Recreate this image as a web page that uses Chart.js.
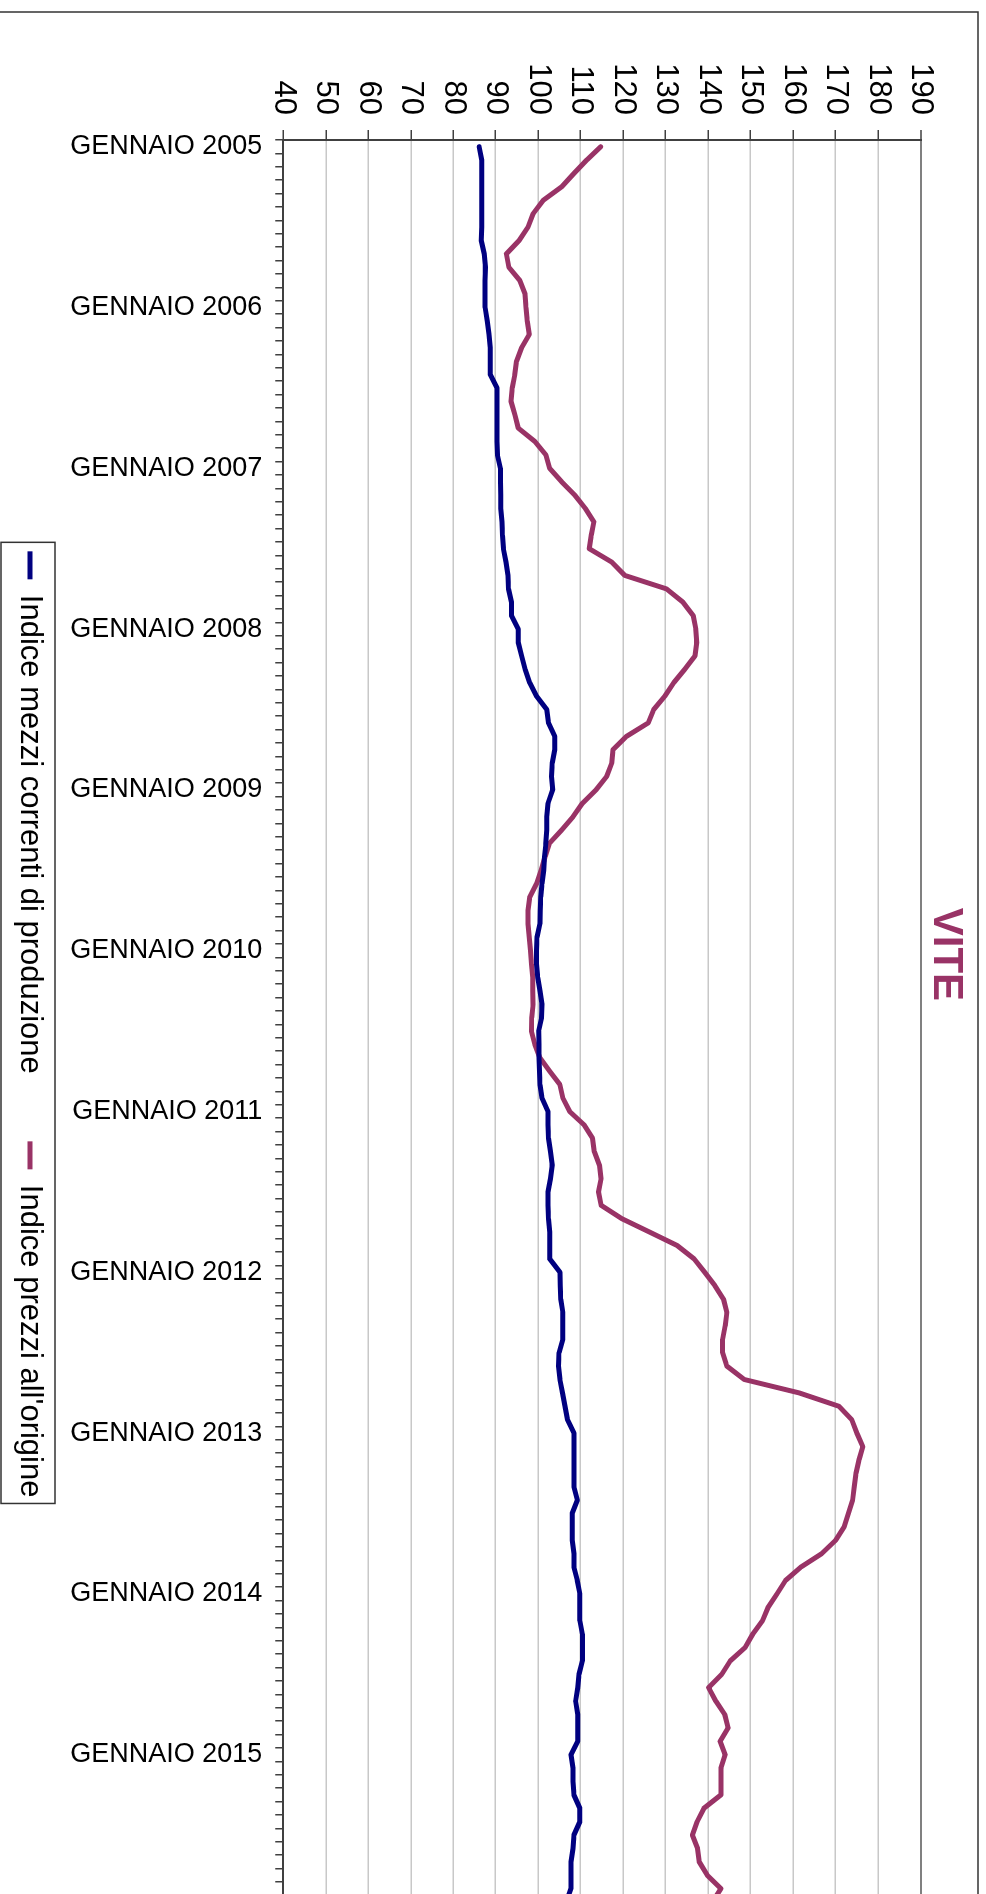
<!DOCTYPE html>
<html>
<head>
<meta charset="utf-8">
<title>VITE</title>
<script src="https://cdn.jsdelivr.net/npm/chart.js@4.4.1/dist/chart.umd.min.js"></script>
<style>
  html, body { margin: 0; padding: 0; background: #fff; overflow: hidden; }
  body { width: 986px; height: 1894px; position: relative; }
  /* il grafico e' disegnato orizzontale e poi ruotato di 90 gradi */
  #ruota { position: absolute; left: 0; top: 0; width: 1960px; height: 986px;
           transform-origin: 0 0; transform: translate(986px, 0) rotate(90deg); }
  #grafico { display: block; }
</style>
</head>
<body>
<div id="ruota"><canvas id="grafico" width="1960" height="986"></canvas></div>
<script>
// Categorie: un punto al mese
const mesi = ["GENNAIO", "FEBBRAIO", "MARZO", "APRILE", "MAGGIO", "GIUGNO",
    "LUGLIO", "AGOSTO", "SETTEMBRE", "OTTOBRE", "NOVEMBRE", "DICEMBRE"];
const anni = [2005, 2006, 2007, 2008, 2009, 2010, 2011, 2012, 2013, 2014, 2015];
const etichette = [];
anni.forEach(a => mesi.forEach(m => etichette.push(m + " " + a)));

// Indice mezzi correnti di produzione (un anno per riga)
const mezziCorrenti = [
    86.1, 86.7, 86.7, 86.7, 86.7, 86.7, 86.7, 86.6, 87.3, 87.6, 87.5, 87.5,
    87.5, 88.0, 88.4, 88.7, 88.7, 88.7, 90.3, 90.3, 90.3, 90.3, 90.3, 90.4,
    91.1, 91.1, 91.2, 91.2, 91.5, 91.6, 91.8, 92.4, 92.9, 93.0, 93.7, 93.7,
    95.3, 95.3, 96.1, 96.9, 98.0, 99.6, 102.0, 102.4, 103.9, 103.9, 103.3, 103.1,
    103.4, 102.3, 102.0, 102.0, 101.8, 101.5, 101.3, 100.9, 100.6, 100.5, 100.4, 99.7,
    99.6, 99.6, 99.9, 100.4, 100.9, 100.8, 100.1, 100.2, 100.2, 100.3, 100.4, 100.9,
    102.3, 102.3, 102.4, 102.9, 103.3, 102.9, 102.3, 102.3, 102.4, 102.7, 102.7, 102.7,
    105.1, 105.2, 105.3, 105.8, 105.8, 105.8, 104.9, 104.8, 105.1, 105.7, 106.3, 106.9,
    108.4, 108.4, 108.4, 108.4, 108.4, 109.2, 108.0, 108.0, 108.0, 108.4, 108.4, 109.2,
    109.8, 109.8, 109.8, 110.4, 110.4, 110.4, 109.6, 109.3, 108.8, 109.3, 109.3, 109.3,
    107.7, 108.2, 108.2, 108.4, 109.8, 109.8, 108.4, 108.2, 107.7, 107.7, 107.7, 106.6
];

// Indice prezzi all'origine
const prezziOrigine = [
    114.7, 111.4, 108.4, 105.5, 101.2, 98.8, 97.6, 95.5, 92.5, 93.1, 95.7, 96.9,
    97.1, 97.4, 97.9, 96.1, 94.9, 94.5, 93.9, 93.6, 94.5, 95.3, 99.2, 101.8,
    102.7, 105.5, 108.6, 111.1, 113.1, 112.5, 112.0, 117.3, 120.4, 130.2, 134.1, 136.5,
    137.1, 137.3, 136.9, 134.5, 131.9, 129.8, 127.2, 125.9, 120.8, 117.6, 117.3, 116.1,
    113.6, 110.4, 108.2, 105.5, 102.6, 101.6, 100.7, 99.6, 98.0, 97.6, 97.6, 97.9,
    98.2, 98.4, 98.7, 98.7, 98.8, 98.5, 98.4, 99.2, 100.4, 102.7, 105.1, 105.8,
    107.4, 110.8, 112.8, 113.2, 114.4, 114.8, 114.2, 114.8, 119.7, 126.2, 132.7, 136.7,
    139.2, 141.6, 143.6, 144.4, 144.0, 143.4, 143.4, 144.4, 148.5, 161.4, 170.8, 173.8,
    175.0, 176.4, 175.5, 174.8, 174.4, 174.0, 173.0, 172.0, 170.0, 166.7, 161.8, 158.2,
    156.2, 154.1, 152.8, 150.5, 148.7, 145.2, 143.2, 140.1, 141.8, 143.9, 144.7, 142.8,
    144.0, 143.0, 143.0, 143.0, 139.0, 137.4, 136.3, 137.5, 137.9, 139.8, 143.0, 141.0
];

// Asse dei valori
const scalaMin = 40, scalaMax = 190, scalaPasso = 10;

const font = "'Liberation Sans', Arial, sans-serif";

// sfondo bianco, cornice esterna e riquadro della legenda
const cornice = {
    id: 'cornice',
    beforeDraw(chart) {
        const ctx = chart.ctx;
        ctx.save();
        ctx.fillStyle = '#fff';
        ctx.fillRect(0, 0, chart.width, chart.height);
        ctx.restore();
    },
    afterDraw(chart) {
        const ctx = chart.ctx;
        ctx.save();
        ctx.strokeStyle = '#333';
        ctx.lineWidth = 1.5;
        ctx.strokeRect(12, 8, chart.width + 100, 990);
        const hb = chart.legend.legendHitBoxes;
        if (hb && hb.length) {
            const a = hb[0], b = hb[hb.length - 1];
            ctx.strokeRect(a.left - 9, a.top - 9.5, b.left + b.width - a.left + 15, a.height + 23);
        }
        ctx.restore();
    }
};

new Chart(document.getElementById('grafico'), {
    type: 'line',
    data: {
        labels: etichette,
        datasets: [{
            label: 'Indice mezzi correnti di produzione',
            data: mezziCorrenti,
            borderColor: '#000080',
            backgroundColor: '#000080',
            borderWidth: 5,
            pointRadius: 0,
            tension: 0,
            borderJoinStyle: 'round',
            borderCapStyle: 'round'
        }, {
            label: "Indice prezzi all'origine",
            data: prezziOrigine,
            borderColor: '#993366',
            backgroundColor: '#993366',
            borderWidth: 5,
            pointRadius: 0,
            tension: 0,
            borderJoinStyle: 'round',
            borderCapStyle: 'round'
        }]
    },
    options: {
        responsive: false,
        animation: false,
        devicePixelRatio: 1,
        layout: { padding: { left: 0, top: 0, right: 51.2, bottom: 4.5 } },
        plugins: {
            title: {
                display: true,
                text: 'VITE',
                color: '#993366',
                font: { family: font, size: 42, weight: 'bold' },
                padding: { top: 15, bottom: 0 }
            },
            legend: {
                position: 'bottom',
                fullSize: false,
                labels: {
                    usePointStyle: true,
                    pointStyle: 'line',
                    pointStyleWidth: 28,
                    color: '#000',
                    font: { family: font, size: 31 },
                    padding: 67.5
                }
            },
            tooltip: { enabled: false }
        },
        scales: {
            x: {
                type: 'category',
                offset: true,
                grid: {
                    offset: true,
                    drawOnChartArea: false,
                    drawTicks: true,
                    tickLength: 8,
                    color: '#404040',
                    lineWidth: 1.5
                },
                border: { display: true, color: '#404040', width: 2 },
                ticks: {
                    autoSkip: false,
                    minRotation: 90,
                    maxRotation: 90,
                    padding: 13,
                    color: '#000',
                    font: { family: font, size: 27 },
                    callback: function (v) {
                        const t = this.getLabelForValue(v);
                        return t.startsWith('GENNAIO') ? t : '';
                    }
                },
                afterFit(s) {
                    s.height = 170.3;
                    // le etichette possono scendere nella fascia della legenda
                    s._computeLabelArea = () => null;
                }
            },
            y: {
                min: scalaMin,
                max: scalaMax,
                ticks: {
                    stepSize: scalaPasso,
                    padding: 15,
                    color: '#000',
                    font: { family: font, size: 31 }
                },
                grid: {
                    color: c => (c.tick && c.tick.value === scalaMax) ? '#808080' : '#c8c8c8',
                    lineWidth: c => (c.tick && c.tick.value === scalaMax) ? 2 : 1.5,
                    tickColor: '#404040',
                    tickWidth: 1.5,
                    tickLength: 10
                },
                border: { display: true, color: '#404040', width: 2 },
                afterFit(s) { s.width = 140; }
            }
        }
    },
    plugins: [cornice]
});
</script>
</body>
</html>
